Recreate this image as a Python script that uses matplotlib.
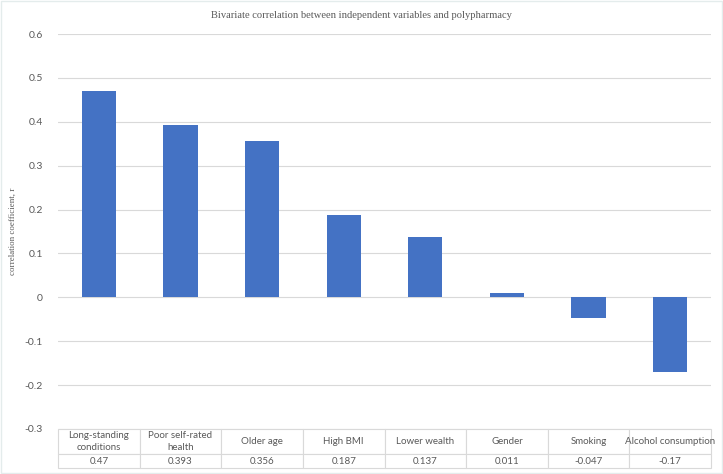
import matplotlib.pyplot as plt
import numpy as np

categories = ["Long-standing\nconditions", "Poor self-rated\nhealth", "Older age", "High BMI",
              "Lower wealth", "Gender", "Smoking", "Alcohol consumption"]
values = [0.47, 0.393, 0.356, 0.187, 0.137, 0.011, -0.047, -0.17]
value_labels = ["0.47", "0.393", "0.356", "0.187", "0.137", "0.011", "-0.047", "-0.17"]
yticks = [-0.3, -0.2, -0.1, 0.0, 0.1, 0.2, 0.3, 0.4, 0.5, 0.6]

W, H = 723, 474
fig = plt.figure(figsize=(W / 100, H / 100), dpi=100)
left, right, top, bottom = 58, 711, 34, 429
ax = fig.add_axes([left / W, 1 - bottom / H, (right - left) / W, (bottom - top) / H])

grid_col = "#d9d9d9"
text_col = "#595959"
x = np.arange(len(values))
ax.bar(x, values, width=0.42, color="#4472C4", zorder=3)
ax.set_xlim(-0.5, len(values) - 0.5)
ax.set_ylim(-0.3, 0.6)
ax.set_yticks(yticks)
ax.set_yticklabels([f"{round(v, 1):g}" for v in yticks])
ax.yaxis.grid(True, color=grid_col, linewidth=0.8, zorder=0)
ax.set_xticks([])
for s in ax.spines.values():
    s.set_visible(False)
ax.tick_params(axis="y", length=0, pad=11, labelsize=7.5, labelcolor=text_col)
for lab in ax.get_yticklabels():
    lab.set_family("Lato")

ax.set_ylabel("correlation coefficient, r", family="Liberation Serif", fontsize=6.4,
              color=text_col)
ax.yaxis.set_label_coords((17 - left) / (right - left), (bottom - 231) / (bottom - top))
fig.text(0.5, 1 - 16 / H, "Bivariate correlation between independent variables and polypharmacy",
         ha="center", va="center", family="Liberation Serif", fontsize=7.6, color=text_col)

# data table below the plot area (grid from ax.table, text placed per column)
h1, h2 = 25, 14
span = bottom - top
tab_h = (h1 + h2) / span
tbl = ax.table(cellText=[[""] * len(values)] * 2, bbox=[0, -tab_h, 1, tab_h])
for (r, c), cell in tbl.get_celld().items():
    cell.set_edgecolor(grid_col)
    cell.set_linewidth(0.8)
    cell.set_height(h1 if r == 0 else h2)

n = len(values)
line_gap = 11 / span
row1_y = -(h1 / 2) / span
row2_y = -(h1 + h2 / 2) / span
for i in range(n):
    cx = (i + 0.5) / n
    lines = categories[i].split("\n")
    y0 = row1_y + line_gap * (len(lines) - 1) / 2
    for k, line in enumerate(lines):
        ax.text(cx, y0 - k * line_gap, line, transform=ax.transAxes, ha="center",
                va="center", family="Lato", fontsize=7, color=text_col)
    ax.text(cx, row2_y, value_labels[i], transform=ax.transAxes, ha="center", va="center",
            family="Lato", fontsize=7, color=text_col)

# light chart border
fig.patches.append(plt.Rectangle((0.002, 0.002), 0.996, 0.996, transform=fig.transFigure,
                                 fill=False, edgecolor="#e4ecec", linewidth=1))

fig.savefig("out.png", dpi=100)
